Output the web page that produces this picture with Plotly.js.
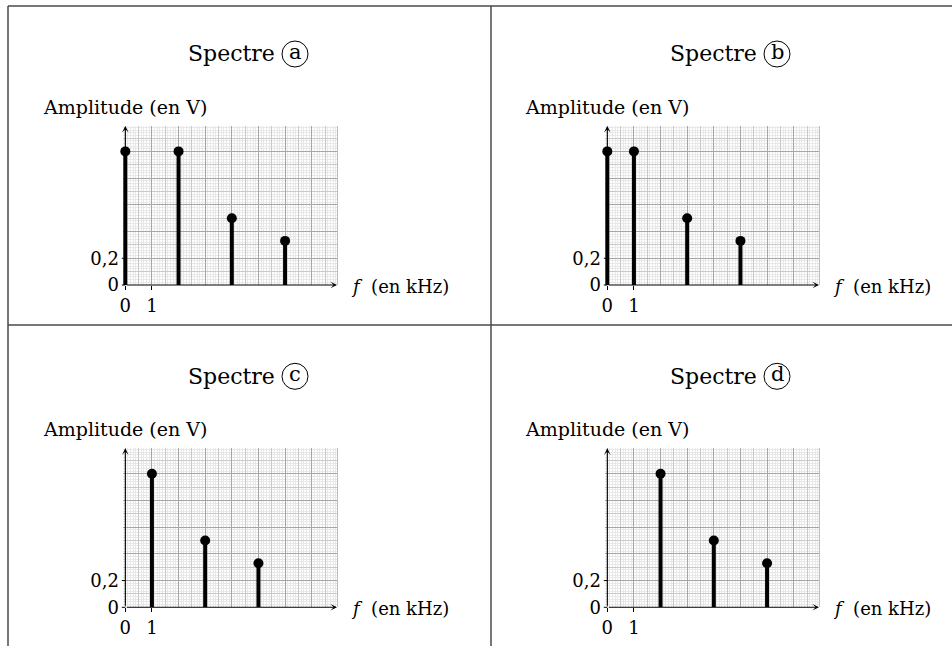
<!DOCTYPE html>
<html><head><meta charset="utf-8">
<script src="https://cdn.plot.ly/plotly-3.0.1.min.js"></script>
<style>html,body{margin:0;padding:0;background:#fff;overflow:hidden}#chart{width:952px;height:646px}</style>
</head><body><div id="chart"></div>
<script>
// ---- data ----
const panelLetters = ['a', 'b', 'c', 'd'];
const freqA = [0, 2, 4, 6];
const ampA  = [1.0, 1.0, 0.5, 0.33];
const freqB = [0, 1, 3, 5];
const ampB  = [1.0, 1.0, 0.5, 0.33];
const freqC = [1, 3, 5];
const ampC  = [1.0, 0.5, 0.33];
const freqD = [2, 4, 6];
const ampD  = [1.0, 0.5, 0.33];
const xTickVals = [0, 1];
const xTickText = ['0', '1'];
const yTickVals = [0, 0.2];
const yTickText = ['0', '0,2'];
const xRange = [0, 7.95];
const yRange = [0, 1.19];
const titleWord = 'Spectre';
const yLabel = 'Amplitude (en V)';
const xLabel = '<i>f</i>  (en kHz)';

// ---- layout ----
const W = 952, H = 646;
const FONT = 'DejaVu Serif, Liberation Serif, serif';
const plotW = 211.7, plotH = 159;
const pxPerX = plotW / (xRange[1] - xRange[0]);
const xPad = 0.09;                       // room left of the y axis so the first stem is not clipped
const xRangeFull = [xRange[0] - xPad, xRange[1]];
const panels = [
  {f: freqA, a: ampA, left: 125.3, top: 126},
  {f: freqB, a: ampB, left: 607.3, top: 126},
  {f: freqC, a: ampC, left: 125.3, top: 448.3},
  {f: freqD, a: ampD, left: 607.3, top: 448.3}
];
const data = [];
const layout = {
  width: W, height: H, margin: {l: 0, r: 0, t: 0, b: 0},
  paper_bgcolor: '#ffffff', plot_bgcolor: 'rgba(0,0,0,0)',
  showlegend: false, shapes: [], annotations: [],
  font: {family: FONT, color: '#000', size: 18},
  hovermode: false
};
const id = k => (k === 1 ? '' : String(k));

panels.forEach((p, i) => {
  const n1 = 3 * i + 1, n2 = 3 * i + 2, n3 = 3 * i + 3;
  const xd = [(p.left - xPad * pxPerX) / W, (p.left + plotW) / W];
  const yd = [1 - (p.top + plotH) / H, 1 - p.top / H];
  const xm = 'x' + id(n1), ym = 'y' + id(n1);
  // main axes: medium grid (half units) + fine minor grid
  layout['xaxis' + id(n1)] = {domain: xd, range: xRangeFull, anchor: ym, showgrid: true, tick0: 0.5, dtick: 1,
    gridcolor: '#c9c9c9', gridwidth: 1, minor: {tick0: 0, dtick: 0.1, showgrid: true, gridcolor: '#e8e8e8', gridwidth: 1},
    showticklabels: false, ticks: '', zeroline: false, showline: false, fixedrange: true};
  layout['yaxis' + id(n1)] = {domain: yd, range: yRange, anchor: xm, showgrid: true, tick0: 0.1, dtick: 0.2,
    gridcolor: '#c9c9c9', gridwidth: 1, minor: {tick0: 0, dtick: 0.02, showgrid: true, gridcolor: '#e8e8e8', gridwidth: 1},
    showticklabels: false, ticks: '', zeroline: false, showline: false, fixedrange: true};
  // major grid overlay (+ light border on the right)
  layout['xaxis' + id(n2)] = {overlaying: xm, anchor: 'y' + id(n2), side: 'top', range: xRangeFull, showgrid: true, tick0: 0, dtick: 1,
    gridcolor: '#a6a6a6', gridwidth: 1, showticklabels: false, ticks: '', zeroline: false, showline: false, fixedrange: true};
  layout['yaxis' + id(n2)] = {overlaying: ym, anchor: 'x' + id(n2), side: 'right', range: yRange, showgrid: true, tick0: 0, dtick: 0.2,
    gridcolor: '#a6a6a6', gridwidth: 1, showticklabels: false, ticks: '', zeroline: false, showline: true, linecolor: '#bdbdbd', linewidth: 1, fixedrange: true};
  // label axes
  layout['xaxis' + id(n3)] = {overlaying: xm, anchor: 'y' + id(n3), range: xRangeFull, tickmode: 'array', tickvals: xTickVals, ticktext: xTickText,
    ticks: 'outside', ticklen: 4, tickwidth: 1, tickcolor: '#000', showgrid: false, zeroline: false, showline: false,
    tickfont: {family: FONT, size: 18, color: '#000'}, fixedrange: true};
  layout['yaxis' + id(n3)] = {overlaying: ym, anchor: 'x' + id(n3), range: yRange, tickmode: 'array', tickvals: yTickVals, ticktext: yTickText,
    ticks: '', ticklabelstandoff: 3, showgrid: false, zeroline: false, showline: false,
    tickfont: {family: FONT, size: 18, color: '#000'}, fixedrange: true};

  data.push({type: 'scatter', mode: 'markers', x: [null], y: [null], xaxis: 'x' + id(n2), yaxis: 'y' + id(n2), hoverinfo: 'skip'});
  data.push({type: 'scatter', mode: 'markers', x: [null], y: [null], xaxis: 'x' + id(n3), yaxis: 'y' + id(n3), hoverinfo: 'skip'});
  // stems
  data.push({type: 'scatter', mode: 'markers', x: p.f, y: p.a, xaxis: xm, yaxis: ym, cliponaxis: false,
    marker: {color: '#000', size: 10},
    error_y: {type: 'data', symmetric: false, array: p.a.map(() => 0), arrayminus: p.a, width: 0, thickness: 4, color: '#000'},
    hoverinfo: 'skip'});

  // axis arrows
  layout.annotations.push({xref: xm, yref: ym, axref: xm, ayref: ym, x: xRange[1], y: 0, ax: xRange[0], ay: 0, text: '',
    showarrow: true, arrowhead: 3, arrowsize: 1, arrowwidth: 1.1, arrowcolor: '#000', standoff: 0});
  layout.annotations.push({xref: xm, yref: ym, axref: xm, ayref: ym, x: xRange[0], y: yRange[1], ax: xRange[0], ay: 0, text: '',
    showarrow: true, arrowhead: 3, arrowsize: 1, arrowwidth: 1.1, arrowcolor: '#000', standoff: 0});
  // y tick marks (short dashes across the y axis) at the tick values
  yTickVals.forEach(v => {
    layout.annotations.push({xref: xm, yref: ym, axref: 'pixel', ayref: 'pixel', x: xRange[0], y: v, ax: -5, ay: 0, text: '',
      showarrow: true, arrowhead: 0, arrowwidth: 1, arrowcolor: '#000', standoff: -2, startstandoff: 0});
  });
  // axis titles
  layout.annotations.push({xref: 'paper', yref: 'paper', x: (p.left - 0.6) / W, y: 1 - (p.top - 19) / H, text: yLabel,
    showarrow: false, xanchor: 'center', yanchor: 'middle', font: {family: FONT, size: 19, color: '#000'}});
  layout.annotations.push({xref: 'paper', yref: 'paper', x: (p.left + plotW + 12) / W, y: 1 - (p.top + plotH + 1.5) / H, text: xLabel,
    showarrow: false, xanchor: 'left', yanchor: 'middle', font: {family: FONT, size: 18, color: '#000'}});
  // panel title
  const cx = p.left + 169.7, cy = p.top - 72;
  layout.annotations.push({xref: 'paper', yref: 'paper', x: (cx - 18) / W, y: 1 - cy / H, text: titleWord,
    showarrow: false, xanchor: 'right', yanchor: 'middle', font: {family: FONT, size: 22, color: '#000'}});
  layout.annotations.push({xref: 'paper', yref: 'paper', x: cx / W, y: 1 - cy / H, text: panelLetters[i], yshift: 2,
    showarrow: false, xanchor: 'center', yanchor: 'middle', font: {family: FONT, size: 21, color: '#000'}});
  layout.shapes.push({type: 'circle', xref: 'paper', yref: 'paper', xsizemode: 'pixel', ysizemode: 'pixel',
    xanchor: cx / W, yanchor: 1 - cy / H, x0: -13, x1: 13, y0: -13, y1: 13, line: {color: '#000', width: 1}});
});

// frame
const frameLine = {color: '#4a4a4a', width: 1.5};
layout.shapes.push({type: 'line', xref: 'paper', yref: 'paper', x0: 8 / W, x1: 1, y0: 1 - 6 / H, y1: 1 - 6 / H, line: frameLine});
layout.shapes.push({type: 'line', xref: 'paper', yref: 'paper', x0: 8 / W, x1: 8 / W, y0: 1 - 6 / H, y1: 0, line: frameLine});
layout.shapes.push({type: 'line', xref: 'paper', yref: 'paper', x0: 491 / W, x1: 491 / W, y0: 1 - 6 / H, y1: 0, line: frameLine});
layout.shapes.push({type: 'line', xref: 'paper', yref: 'paper', x0: 8 / W, x1: 1, y0: 1 - 325 / H, y1: 1 - 325 / H, line: frameLine});

Plotly.newPlot('chart', data, layout, {staticPlot: true, displayModeBar: false});
</script>
</body></html>
